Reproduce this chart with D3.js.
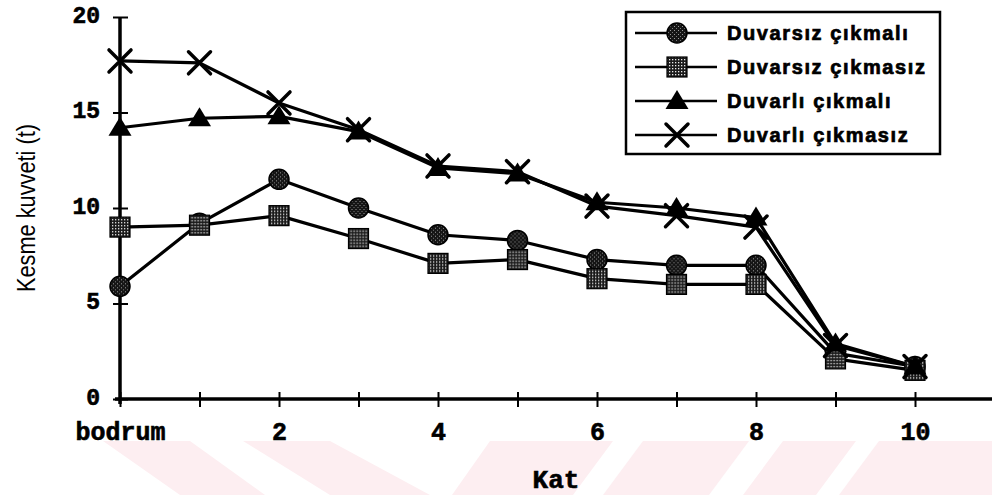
<!DOCTYPE html>
<html>
<head>
<meta charset="utf-8">
<script src="https://cdn.jsdelivr.net/npm/d3@7"></script>
<style>
  html, body { margin: 0; padding: 0; background: #fff; }
  svg { display: block; }
</style>
</head>
<body>
<script>
// Floors (Kat) and shear force (Kesme kuvveti, t) for four building variants
const floors = ["bodrum", "1", "2", "3", "4", "5", "6", "7", "8", "9", "10"];
const xTickLabels = ["bodrum", "", "2", "", "4", "", "6", "", "8", "", "10"];
const yTicks = [0, 5, 10, 15, 20];

const seriesNames = ["Duvarsız çıkmalı", "Duvarsız çıkmasız", "Duvarlı çıkmalı", "Duvarlı çıkmasız"];
const duvarsizCikmali  = [5.9, 9.2, 11.5, 10.0, 8.6, 8.3, 7.3, 7.0, 7.0, 2.4, 1.7];
const duvarsizCikmasiz = [9.0, 9.1, 9.6, 8.4, 7.1, 7.3, 6.3, 6.0, 6.0, 2.1, 1.5];
const duvarliCikmali   = [14.2, 14.7, 14.8, 14.0, 12.1, 11.8, 10.3, 10.0, 9.5, 2.9, 1.7];
const duvarliCikmasiz  = [17.7, 17.6, 15.5, 14.1, 12.2, 11.9, 10.1, 9.6, 9.0, 2.8, 1.7];

const W = 992, H = 495;
const svg = d3.select("body").append("svg").attr("width", W).attr("height", H);

// Fill textures for the circle and square markers
const defs = svg.append("defs");
const pc = defs.append("pattern").attr("id", "dotsDark").attr("patternUnits", "userSpaceOnUse")
  .attr("width", 4).attr("height", 4);
pc.append("rect").attr("width", 4).attr("height", 4).attr("fill", "#151515");
pc.append("rect").attr("x", 1).attr("y", 1).attr("width", 1).attr("height", 1).attr("fill", "#999");
pc.append("rect").attr("x", 3).attr("y", 3).attr("width", 1).attr("height", 1).attr("fill", "#777");
const ps = defs.append("pattern").attr("id", "dotsMid").attr("patternUnits", "userSpaceOnUse")
  .attr("width", 3).attr("height", 3);
ps.append("rect").attr("width", 3).attr("height", 3).attr("fill", "#1a1a1a");
ps.append("rect").attr("x", 1).attr("y", 1).attr("width", 1.3).attr("height", 1.3).attr("fill", "#e8e8e8");

// Faint striped background band along the bottom edge
const band = svg.append("g").attr("fill", "#fdeef1");
const bandTop = 441, bandBot = H;
[[103, 190, 180, 265], [243, 330, 330, 430], [490, 613, 452, 573],
 [643, 749, 603, 709], [783, 856, 743, 816], [879, 992, 839, 992]]
  .forEach(([a, b, c, d]) => {
    band.append("path").attr("d", `M${a},${bandTop}L${b},${bandTop}L${d},${bandBot}L${c},${bandBot}Z`);
  });

const x = d3.scaleLinear().domain([0, floors.length - 1]).range([120, 915]);
const y = d3.scaleLinear().domain([0, 20]).range([399, 17]);

const monoBold = "'Liberation Mono', 'Courier New', monospace";

// X axis
const xAxis = svg.append("g").attr("transform", `translate(0,${y(0)})`)
  .call(d3.axisBottom(x).tickValues(d3.range(floors.length)).tickSize(8)
    .tickFormat(i => xTickLabels[i]));
xAxis.select(".domain").remove();
xAxis.append("line").attr("x1", x(0) - 5).attr("x2", W).attr("stroke", "#000").attr("stroke-width", 3.5);
xAxis.selectAll(".tick line").attr("y1", -7).attr("y2", 8).attr("stroke", "#000").attr("stroke-width", 2);
xAxis.selectAll(".tick text").attr("y", 0).attr("dy", "41px")
  .attr("font-family", monoBold).attr("font-weight", "bold").attr("font-size", 25).attr("fill", "#000")
  .attr("stroke", "#000").attr("stroke-width", 0.6);

// Y axis
const yAxis = svg.append("g").attr("transform", `translate(${x(0)},0)`)
  .call(d3.axisLeft(y).tickValues(yTicks).tickSize(7).tickFormat(d3.format("d")));
yAxis.select(".domain").remove();
yAxis.append("line").attr("y1", y(20)).attr("y2", y(0) + 5).attr("stroke", "#000").attr("stroke-width", 3.5);
yAxis.selectAll(".tick line").attr("x1", -7).attr("x2", 8).attr("stroke", "#000").attr("stroke-width", 2);
yAxis.selectAll(".tick text").attr("x", -20).attr("dy", "0.22em")
  .attr("font-family", monoBold).attr("font-weight", "bold").attr("font-size", 23).attr("fill", "#000")
  .attr("stroke", "#000").attr("stroke-width", 0.6);

// Axis titles
svg.append("text").attr("x", 556).attr("y", 488).attr("text-anchor", "middle")
  .attr("font-family", monoBold).attr("font-weight", "bold").attr("font-size", 26)
  .attr("stroke", "#000").attr("stroke-width", 0.6).text("Kat");
svg.append("text").attr("transform", "translate(35,208) rotate(-90)").attr("text-anchor", "middle")
  .attr("font-family", "'Liberation Sans Narrow', 'Liberation Sans', Arial, sans-serif")
  .attr("font-size", 25).attr("textLength", 168).attr("lengthAdjust", "spacingAndGlyphs")
  .text("Kesme kuvveti (t)");

// Marker drawers
const markers = {
  circle: (g) => g.append("circle").attr("r", 10).attr("fill", "url(#dotsDark)").attr("stroke", "#000").attr("stroke-width", 1.5),
  square: (g) => g.append("rect").attr("x", -10).attr("y", -10).attr("width", 20).attr("height", 20)
    .attr("fill", "url(#dotsMid)").attr("stroke", "#000").attr("stroke-width", 1.2),
  triangle: (g) => g.append("path").attr("d", "M0,-11L11.5,8L-11.5,8Z").attr("fill", "#000"),
  cross: (g) => g.append("path").attr("d", "M-11,-11L11,11M-11,11L11,-11").attr("stroke", "#000")
    .attr("stroke-width", 3.5).attr("stroke-linecap", "round").attr("fill", "none")
};

const series = [
  { name: seriesNames[0], values: duvarsizCikmali, marker: "circle" },
  { name: seriesNames[1], values: duvarsizCikmasiz, marker: "square" },
  { name: seriesNames[2], values: duvarliCikmali, marker: "triangle" },
  { name: seriesNames[3], values: duvarliCikmasiz, marker: "cross" }
];

const line = d3.line().x((d, i) => x(i)).y(d => y(d));
const plot = svg.append("g");
series.forEach(s => {
  plot.append("path").datum(s.values).attr("d", line)
    .attr("fill", "none").attr("stroke", "#000").attr("stroke-width", 3.2).attr("stroke-linejoin", "round");
});
series.forEach(s => {
  s.values.forEach((v, i) => {
    const g = plot.append("g").attr("transform", `translate(${x(i)},${y(v)})`);
    markers[s.marker](g);
  });
});

// Legend
const legend = svg.append("g");
legend.append("rect").attr("x", 626).attr("y", 12).attr("width", 314).attr("height", 142)
  .attr("fill", "#fff").attr("stroke", "#000").attr("stroke-width", 2.5);
series.forEach((s, i) => {
  const ry = 33 + i * 34;
  const g = legend.append("g").attr("transform", `translate(0,${ry})`);
  g.append("line").attr("x1", 635).attr("x2", 717).attr("stroke", "#000").attr("stroke-width", 2.5);
  markers[s.marker](g.append("g").attr("transform", "translate(677,0)"));
  g.append("text").attr("x", 727).attr("y", 7)
    .attr("font-family", "'Liberation Sans', Arial, sans-serif").attr("font-weight", "bold")
    .attr("font-size", 20).attr("letter-spacing", 1.6)
    .attr("stroke", "#000").attr("stroke-width", 0.7).text(s.name);
});
</script>
</body>
</html>
